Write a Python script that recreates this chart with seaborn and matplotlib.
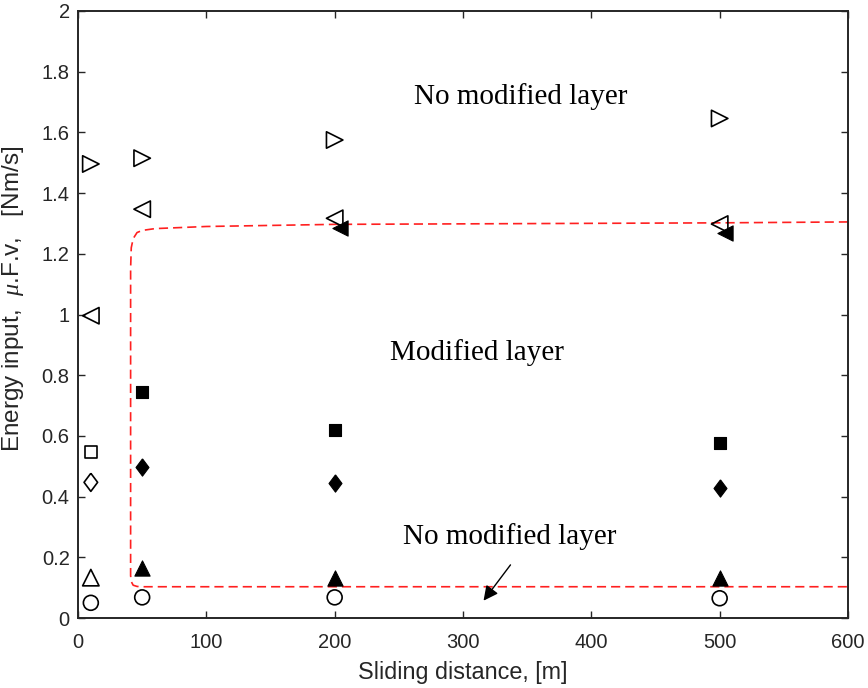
import matplotlib
matplotlib.use("Agg")
import matplotlib.pyplot as plt
import pandas as pd
import seaborn as sns

# Sliding distance [m] and energy input [Nm/s] for each test series
open_circle_x = [10, 50, 200, 500]
open_circle_y = [0.05, 0.068, 0.068, 0.065]

open_tri_up_x = [10]
open_tri_up_y = [0.133]
filled_tri_up_x = [50, 200, 500]
filled_tri_up_y = [0.164, 0.132, 0.131]

open_diamond_x = [10]
open_diamond_y = [0.447]
filled_diamond_x = [50, 200, 500]
filled_diamond_y = [0.499, 0.446, 0.427]

open_square_x = [10]
open_square_y = [0.548]
filled_square_x = [50, 200, 500]
filled_square_y = [0.746, 0.619, 0.575]

open_left_x = [10, 50, 200, 500]
open_left_y = [0.996, 1.347, 1.317, 1.298]
filled_left_x = [204, 504]
filled_left_y = [1.284, 1.268]

open_right_x = [10, 50, 200, 500]
open_right_y = [1.496, 1.515, 1.575, 1.646]

# Boundary of the modified-layer region
boundary_x = [600, 500, 200, 100, 60, 50, 46, 43, 41.5, 41, 41, 41, 41.5, 43, 46, 50, 100, 200, 600]
boundary_y = [1.305, 1.302, 1.297, 1.29, 1.283, 1.277, 1.27, 1.25, 1.22, 1.15, 0.2, 0.14, 0.12, 0.108, 0.104, 0.103, 0.103, 0.103, 0.103]

x_ticks = [0, 100, 200, 300, 400, 500, 600]
y_ticks = [0, 0.2, 0.4, 0.6, 0.8, 1.0, 1.2, 1.4, 1.6, 1.8, 2.0]
y_tick_labels = ["0", "0.2", "0.4", "0.6", "0.8", "1", "1.2", "1.4", "1.6", "1.8", "2"]

sns.set_theme(style="ticks")
plt.rcParams["font.family"] = ["Liberation Sans", "DejaVu Sans"]
plt.rcParams["mathtext.fontset"] = "custom"
plt.rcParams["mathtext.it"] = "Liberation Serif:italic"

axis_col = "#262626"
fig = plt.figure(figsize=(8.68, 6.88), dpi=100)
ax = fig.add_axes([78 / 868, 70 / 688, 770 / 868, 607 / 688])

diamond = [(0, 1), (0.75, 0), (0, -1), (-0.75, 0), (0, 1)]

def pts(x, y):
    return pd.DataFrame({"x": x, "y": y})

def open_marks(x, y, marker, s):
    sns.scatterplot(data=pts(x, y), x="x", y="y", ax=ax, marker=marker, s=s,
                    facecolor="none", edgecolor="black", linewidth=1.2, zorder=3)

def filled_marks(x, y, marker, s):
    sns.scatterplot(data=pts(x, y), x="x", y="y", ax=ax, marker=marker, s=s,
                    color="black", edgecolor="black", linewidth=0.8, zorder=3)

# Boundary curve
sns.lineplot(data=pts(boundary_x, boundary_y), x="x", y="y", ax=ax, sort=False,
             estimator=None, color="#ff2020", linewidth=1.2, dashes=False, zorder=2)
ax.lines[-1].set_dashes((5.5, 3))

open_marks(open_circle_x, open_circle_y, "o", 115)
open_marks(open_tri_up_x, open_tri_up_y, "^", 140)
filled_marks(filled_tri_up_x, filled_tri_up_y, "^", 120)
open_marks(open_diamond_x, open_diamond_y, diamond, 170)
filled_marks(filled_diamond_x, filled_diamond_y, diamond, 155)
open_marks(open_square_x, open_square_y, "s", 75)
filled_marks(filled_square_x, filled_square_y, "s", 65)
open_marks(open_left_x, open_left_y, "<", 140)
filled_marks(filled_left_x, filled_left_y, "<", 120)
open_marks(open_right_x, open_right_y, ">", 140)

# Region labels
serif = ["Liberation Serif", "DejaVu Serif"]
ax.text(345, 1.717, "No modified layer", family=serif, fontsize=21,
        ha="center", va="center", color="black")
ax.text(311, 0.876, "Modified layer", family=serif, fontsize=21,
        ha="center", va="center", color="black")
ax.text(336, 0.27, "No modified layer", family=serif, fontsize=21,
        ha="center", va="center", color="black")
ax.annotate("", xy=(316, 0.057), xytext=(337, 0.175),
            arrowprops=dict(arrowstyle="-|>", color="black", lw=1.0,
                            mutation_scale=22, shrinkA=0, shrinkB=0))

ax.set_xlim(0, 600)
ax.set_ylim(0, 2)
ax.set_xticks(x_ticks)
ax.set_xticklabels([str(t) for t in x_ticks])
ax.set_yticks(y_ticks)
ax.set_yticklabels(y_tick_labels)
ax.tick_params(direction="in", length=5, width=1.0, top=True, right=True,
               labelsize=14.5, colors=axis_col, labelcolor=axis_col)
ax.tick_params(axis="x", pad=11)
ax.tick_params(axis="y", pad=6)
for sp in ax.spines.values():
    sp.set_visible(True)
    sp.set_color(axis_col)
    sp.set_linewidth(1.4)

ax.set_xlabel("Sliding distance, [m]", fontsize=16.8, color=axis_col, labelpad=6)
ax.set_ylabel(r"Energy input,  $\mathit{\mu}$.F.v,   [Nm/s]", fontsize=17.5,
              color=axis_col)
ax.yaxis.set_label_coords(-0.067, 0.525)

fig.savefig("out.png", dpi=100)
